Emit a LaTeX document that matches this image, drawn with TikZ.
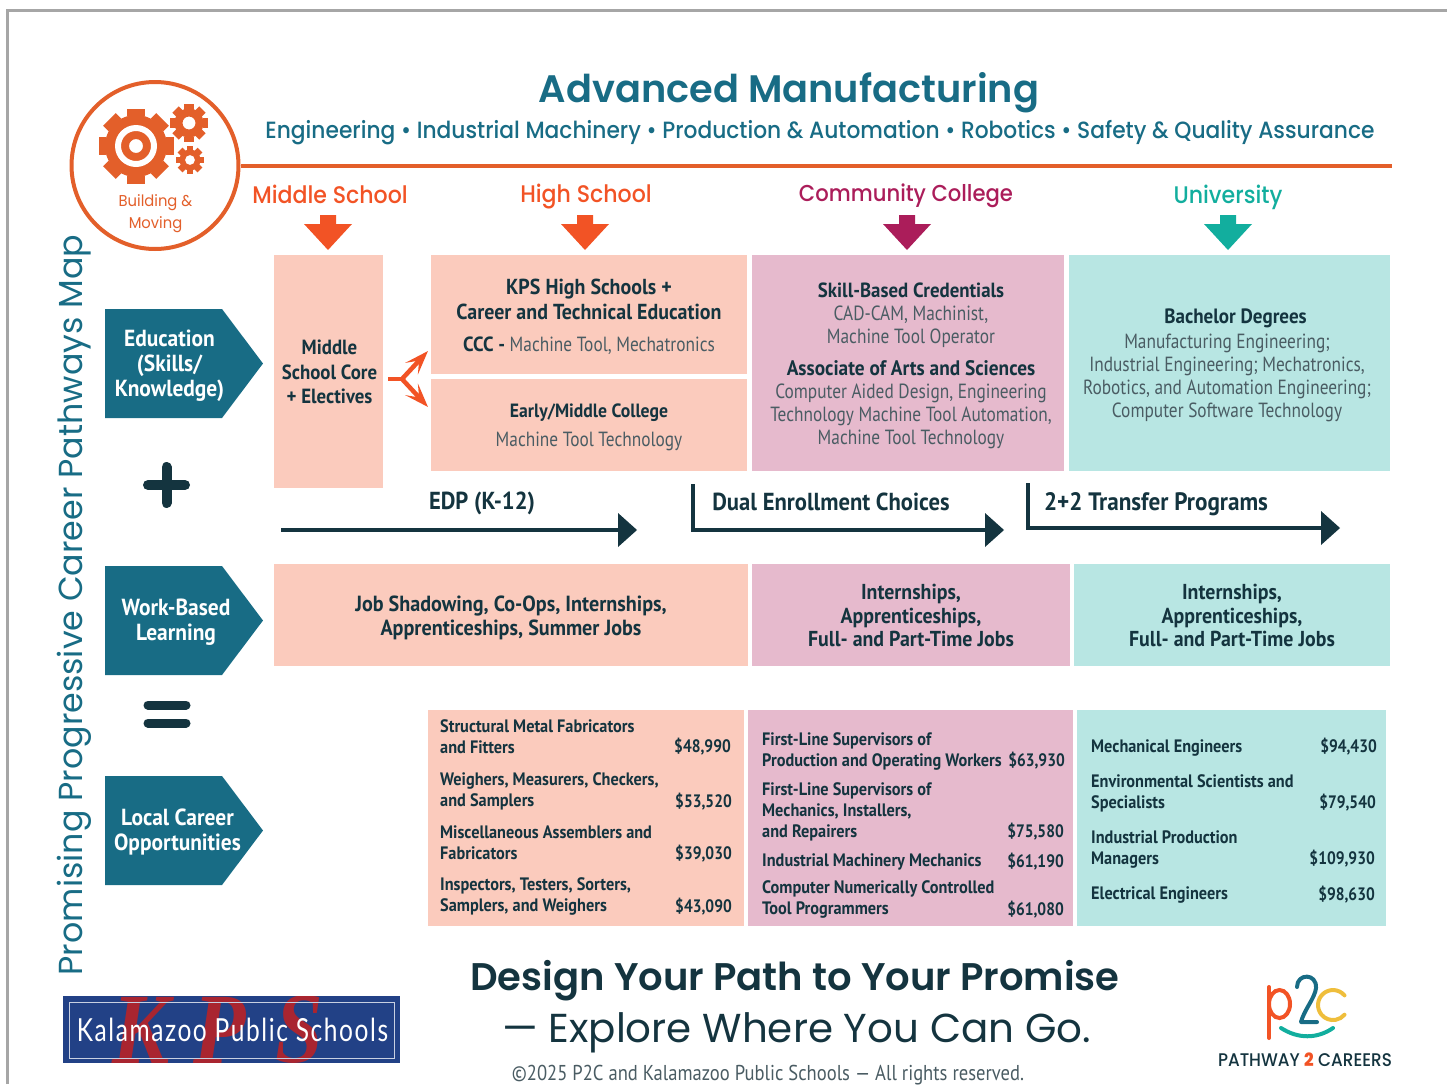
\documentclass[tikz,border=0pt]{standalone}
\usepackage{fontspec}
\usetikzlibrary{arrows.meta}
\setmainfont{PT Sans}
\newfontfamily\nar[FakeStretch=0.845]{PT Sans}
\newfontfamily\narc[FakeStretch=0.865]{PT Sans}
\newfontfamily\narb[FakeStretch=0.92]{PT Sans}
\newfontfamily\narj[FakeStretch=0.905]{PT Sans}
\newfontfamily\narp[FakeStretch=0.86]{PT Sans}
\newfontfamily\head{Poppins}
\newfontfamily\heads{Poppins SemiBold}
\newfontfamily\headm[FakeStretch=0.92]{Poppins Medium}
\newfontfamily\headt[FakeStretch=0.926]{Poppins Medium}
\newfontfamily\headn[FakeStretch=0.94]{Poppins}
\newfontfamily\kpsf[LetterSpace=5,FakeStretch=0.77]{Lato}
\newfontfamily\kpsb[FakeStretch=0.85]{Liberation Serif}
\definecolor{teal1}{HTML}{186C85}
\definecolor{dark}{HTML}{14343F}
\definecolor{gray1}{HTML}{4A5C63}
\definecolor{orng}{HTML}{E35F2A}
\definecolor{orng2}{HTML}{F25325}
\definecolor{peach}{HTML}{FBCBBD}
\definecolor{pink}{HTML}{E6BACD}
\definecolor{aqua}{HTML}{B8E6E3}
\definecolor{magenta1}{HTML}{AB1D5A}
\definecolor{green1}{HTML}{12AE9E}
\definecolor{kblue}{HTML}{224186}
\definecolor{kred}{HTML}{A92530}
\definecolor{ply}{HTML}{EFBE3C}
\newcommand{\fs}[2]{\fontsize{#1}{#2}\selectfont}
\tikzset{
  x=1pt,y=-1pt,
  boxpeach/.style={draw=none,fill=peach},
  boxpink/.style={draw=none,fill=pink},
  boxaqua/.style={draw=none,fill=aqua},
  lab/.style={inner sep=0pt,align=center,text=dark,font=\narb\bfseries\fs{21.7}{24.5}},
  reg/.style={inner sep=0pt,align=center,text=gray1,font=\nar\fs{20.5}{23}},
  job/.style={inner sep=0pt,align=left,anchor=west,text=dark,font=\narj\bfseries\fs{18}{21}},
  pay/.style={inner sep=0pt,anchor=east,text=dark,font=\narp\bfseries\fs{18}{21}},
  sidelab/.style={inner sep=0pt,align=center,text=white,font=\narb\bfseries\fs{23.3}{25}},
  levelhead/.style={inner sep=0pt,font=\headm\fs{24}{28}},
  flowlab/.style={inner sep=0pt,text=dark,font=\narb\bfseries\fs{24.6}{28}},
  flowline/.style={draw=dark,line width=3.5pt},
  forkarrow/.style={orng2,line width=4.5pt,-{Stealth[length=24pt,width=17pt,inset=11pt]}},
}
\newcommand{\pent}[1]{\fill[teal1] (105,#1) -- (222,#1) -- (263,#1+54.5) -- (222,#1+109) -- (105,#1+109) -- cycle;}
\newcommand{\dnarrow}[2]{\fill[#2] (#1-8,215) -- (#1+8,215) -- (#1+8,224) -- (#1+24,224) -- (#1,250) -- (#1-24,224) -- (#1-8,224) -- cycle;}
\newcommand{\gear}[5]{% x y R r hole
  \fill[orng,even odd rule] (#1,#2) circle[radius=#4] (#1,#2) circle[radius=#5];
  \foreach \a in {0,45,...,315}{
    \fill[orng,rotate around={\a:(#1,#2)}] (#1-#3*0.24,#2-#3) rectangle (#1+#3*0.24,#2-#4+1);
  }
}
\newcommand{\flowhead}[2]{\fill[dark] (#1-19,#2-17) -- (#1,#2) -- (#1-19,#2+17) -- cycle;}
\begin{document}
\begin{tikzpicture}
\useasboundingbox (0,0) rectangle (1447,1084);
% frame
\draw[color=black!35,line width=2.5pt] (7.5,1084) -- (7.5,10.5) -- (1447,10.5);
% rule and circle
\coordinate (ruleend) at (1392,165.5);
\node[circle,draw=orng,fill=white,line width=4pt,minimum size=167pt,inner sep=0pt] (badge) at (155,165.5) {};
\draw[orng,line width=4pt] (badge.east) -- (ruleend);
\gear{136}{146}{37.5}{31}{7}
\fill[white,even odd rule] (136,146) circle[radius=21] (136,146) circle[radius=15];
\gear{189}{123}{19}{14.5}{6.5}
\gear{190}{160}{14}{10.5}{5}
\node[inner sep=0pt,align=center,text=orng,font=\headn\fs{15.7}{22}] (badgetxt) at (155.5,213.5) {Building \&\\Moving};
% titles
\node[inner sep=0pt,text=teal1,font=\heads\fs{38.3}{44}] (title) at (789,93) {Advanced Manufacturing};
\node[inner sep=0pt,text=teal1,font=\headt\fs{23.5}{28}] (subtitle) at (820,132.5) {Engineering • Industrial Machinery • Production \& Automation • Robotics • Safety \& Quality Assurance};
% rotated
\node[inner sep=0pt,rotate=90,text=teal1,font=\head\fs{33.3}{40}] (sidetitle) at (74.5,605) {Promising Progressive Career Pathways Map};
% level heads
\node[levelhead,text=orng2] (ms) at (330,194.5) {Middle School};
\node[levelhead,text=orng2] (hs) at (586,197) {High School};
\node[levelhead,text=magenta1,font=\headm\fs{23}{28}] (cc) at (906,196) {Community College};
\node[levelhead,text=green1] (uni) at (1228,197.5) {University};
\dnarrow{328}{orng2}
\dnarrow{585}{orng2}
\dnarrow{907}{magenta1}
\dnarrow{1228}{green1}
% boxes
\fill[boxpeach] (274,255) rectangle (383,488);
\fill[boxpeach] (431,255) rectangle (747,374);
\fill[boxpeach] (431,379) rectangle (747,471);
\fill[boxpink] (752,255) rectangle (1064,471);
\fill[boxaqua] (1069,255) rectangle (1390,471);
\fill[boxpeach] (274,564) rectangle (748,666);
\fill[boxpink] (752,564) rectangle (1070,666);
\fill[boxaqua] (1074,564) rectangle (1390,666);
\fill[boxpeach] (428,710) rectangle (744,926);
\fill[boxpink] (748,710) rectangle (1073,926);
\fill[boxaqua] (1077,710) rectangle (1386,926);
% side arrows
\pent{309}\pent{566}\pent{776}
\node[sidelab] (edu) at (169.5,366) {Education\\(Skills/\\Knowledge)};
\node[sidelab] (wbl) at (176,622) {Work-Based\\Learning};
\node[sidelab] (lco) at (177.5,832) {Local Career\\Opportunities};
% plus equals
\draw[dark,line width=10pt,line cap=round] (148,485) -- (185,485);
\draw[dark,line width=10pt,line cap=round] (166.5,467) -- (166.5,503);
\draw[dark,line width=9pt,line cap=round] (148,705) -- (186,705);
\draw[dark,line width=9pt,line cap=round] (148,723) -- (186,723);
% middle school
\node[lab,font=\narb\bfseries\fs{20.5}{24.5}] (msb) at (329.5,372) {Middle\\School Core\\+ Electives};
% fork
\coordinate (forka) at (388,379);
\coordinate (forkb) at (402,379);
\coordinate (forkc) at (428,351);
\coordinate (forkd) at (428,407);
\draw[orng2,line width=4.5pt] (forka) -- (forkb);
\draw[forkarrow] (forkb) -- (forkc);
\draw[forkarrow] (forkb) -- (forkd);
% high school
\node[lab] (hs1) at (589,299.5) {KPS High Schools +\\Career and Technical Education};
\node[reg] (hs2) at (589,346) {{\narb\bfseries\color{dark}CCC -} Machine Tool, Mechatronics};
\node[lab,font=\narb\bfseries\fs{19.2}{23}] (hs3) at (589,413) {Early/Middle College};
\node[reg] (hs4) at (589,441) {Machine Tool Technology};
% cc
\node[lab,font=\narb\bfseries\fs{20.5}{23}] (cc1) at (911,290.5) {Skill-Based Credentials};
\node[reg] (cc2) at (911,327) {CAD-CAM, Machinist,\\Machine Tool Operator};
\node[lab,font=\narb\bfseries\fs{21}{23}] (cc3) at (911,368) {Associate of Arts and Sciences};
\node[reg] (cc4) at (911,416) {Computer Aided Design, Engineering\\Technology Machine Tool Automation,\\Machine Tool Technology};
% uni
\node[lab,font=\narb\bfseries\fs{20.7}{23}] (u1) at (1235.5,318) {Bachelor Degrees};
\node[reg] (u2) at (1227,377.5) {Manufacturing Engineering;\\Industrial Engineering; Mechatronics,\\Robotics, and Automation Engineering;\\Computer Software Technology};
% flows
\node[flowlab] (edp) at (482,503) {EDP (K-12)};
\node[flowlab] (dual) at (831,502) {Dual Enrollment Choices};
\node[flowlab,font=\narb\bfseries\fs{25.2}{28}] (tp) at (1156,504) {2+2 Transfer Programs};
\coordinate (f1a) at (281,530); \coordinate (f1b) at (622,530);
\coordinate (f2t) at (693,484); \coordinate (f2a) at (693,530); \coordinate (f2b) at (988,530);
\coordinate (f3t) at (1028,483); \coordinate (f3a) at (1028,528); \coordinate (f3b) at (1324,528);
\draw[flowline] (f1a) -- (f1b);
\flowhead{637}{530}
\draw[flowline] (f2t) -- (f2a) -- (f2b);
\flowhead{1004}{530}
\draw[flowline] (f3t) -- (f3a) -- (f3b);
\flowhead{1340}{528}
% WBL
\node[lab,font=\narb\bfseries\fs{21.9}{24.5}] (w1) at (511,618) {Job Shadowing, Co-Ops, Internships,\\Apprenticeships, Summer Jobs};
\node[lab,font=\narb\bfseries\fs{21.6}{23.5}] (w2) at (911,615.5) {Internships,\\Apprenticeships,\\Full- and Part-Time Jobs};
\node[lab,font=\narb\bfseries\fs{21.6}{23.5}] (w3) at (1232,615.5) {Internships,\\Apprenticeships,\\Full- and Part-Time Jobs};
% jobs 1
\node[job] (j11) at (440,736.5) {Structural Metal Fabricators\\and Fitters};
\node[pay] (p11) at (731,747) {\$48,990};
\node[job] (j12) at (440,791) {Weighers, Measurers, Checkers,\\and Samplers};
\node[pay] (p12) at (732,802) {\$53,520};
\node[job] (j13) at (440,842.5) {Miscellaneous Assemblers and\\Fabricators};
\node[pay] (p13) at (732,854) {\$39,030};
\node[job] (j14) at (440,896) {Inspectors, Testers, Sorters,\\Samplers, and Weighers};
\node[pay] (p14) at (732,907) {\$43,090};
% jobs 2
\node[job] (j21) at (762,751.5) {First-Line Supervisors of\\Production and Operating Workers};
\node[pay] (p21) at (1065,761) {\$63,930};
\node[job] (j22) at (762,811.5) {First-Line Supervisors of\\Mechanics, Installers,\\and Repairers};
\node[pay] (p22) at (1064,832) {\$75,580};
\node[job] (j23) at (762,862) {Industrial Machinery Mechanics};
\node[pay] (p23) at (1064,861.5) {\$61,190};
\node[job] (j24) at (762,899.5) {Computer Numerically Controlled\\Tool Programmers};
\node[pay] (p24) at (1064,910) {\$61,080};
% jobs 3
\node[job] (j31) at (1091,747.5) {Mechanical Engineers};
\node[pay] (p31) at (1377,747) {\$94,430};
\node[job] (j32) at (1091,793) {Environmental Scientists and\\Specialists};
\node[pay] (p32) at (1376,803) {\$79,540};
\node[job] (j33) at (1091,849) {Industrial Production\\Managers};
\node[pay] (p33) at (1375,859) {\$109,930};
\node[job] (j34) at (1091,895) {Electrical Engineers};
\node[pay] (p34) at (1375,894.5) {\$98,630};
% footer
\node[inner sep=0pt,text=dark,font=\heads\fs{38.5}{44}] (foot1) at (795,981) {Design Your Path to Your Promise};
\node[inner sep=0pt,text=dark,font=\head\fs{40.4}{44}] (foot2) at (796.5,1033) {— Explore Where You Can Go.};
\node[inner sep=0pt,text=gray1,font=\narc\fs{21.5}{24}] (copy) at (768,1075) {©2025 P2C and Kalamazoo Public Schools — All rights reserved.};
% KPS logo
\fill[kblue] (63,996) rectangle (400,1063);
\begin{scope}
\clip (63,996) rectangle (400,1063);
\node[inner sep=0pt,text=kred,font=\kpsb\bfseries\itshape\fs{101}{101}] (kk) at (141,1030) {K};
\node[inner sep=0pt,text=kred,font=\kpsb\bfseries\itshape\fs{101}{101}] (kp) at (220,1030) {P};
\node[inner sep=0pt,text=kred,font=\kpsb\bfseries\itshape\fs{101}{101}] (ks) at (299,1030) {S};
\end{scope}
\draw[white!75!kblue,line width=1pt] (69,1002.5) rectangle (394.5,1058);
\node[inner sep=0pt,text=white,font=\kpsf\fs{31.8}{36}] (kname) at (232.5,1030) {Kalamazoo Public Schools};
% P2C logo
\draw[orng2,line width=4pt,line cap=round] (1269,987) -- (1269,1038);
\draw[orng2,line width=4pt] (1279.5,1004) ellipse[x radius=10.5,y radius=14];
\draw[teal1,line width=4pt,line cap=round,line join=round] (1297,987) .. controls (1297,973) and (1317,973) .. (1316,988) .. controls (1315,998) and (1304,1010) .. (1301,1022) -- (1317,1022);
\draw[ply,line width=4pt,line cap=round] (1344.5,995.4) arc[start angle=-40,end angle=-320,radius=15];
\draw[green1,line width=4pt,line cap=round] (1281,1028) .. controls (1298,1039) and (1317,1039) .. (1333,1028);
\node[inner sep=0pt,text=dark,font=\headm\fs{18.3}{20}] (p2c) at (1305,1060) {PATHWAY {\bfseries\color{orng2}2} CAREERS};
\end{tikzpicture}
\end{document}
